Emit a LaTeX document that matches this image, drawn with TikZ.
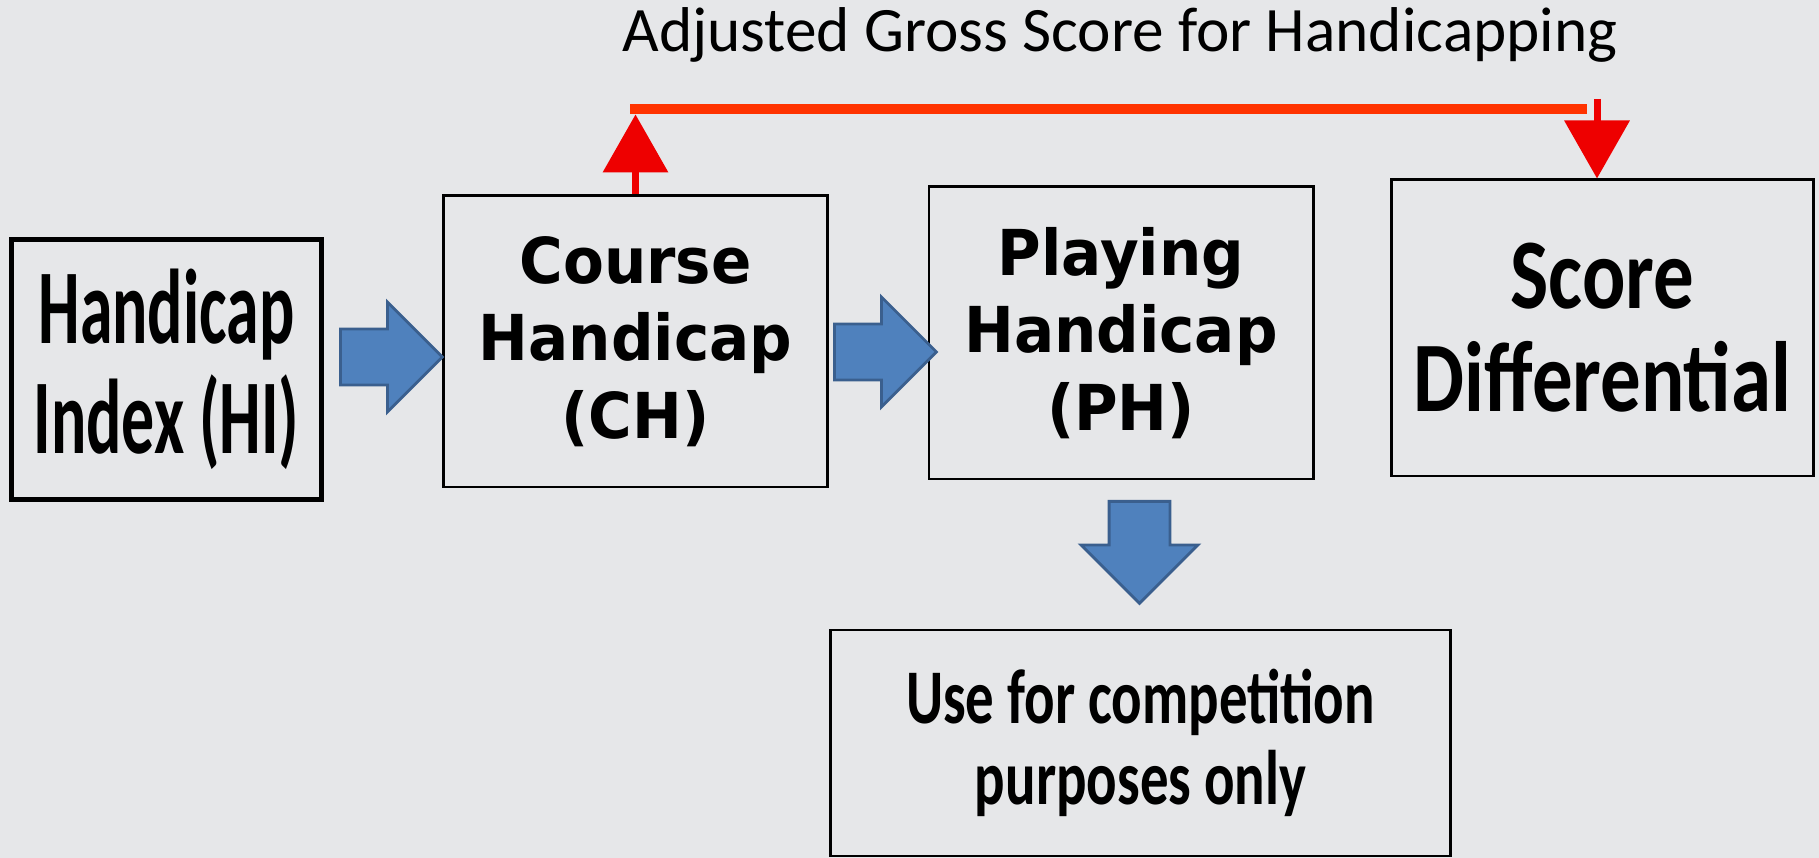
\documentclass[tikz,border=0pt]{standalone}
\usepackage{fontspec}
\setmainfont{Carlito}
\newfontfamily\narrowfont[FakeStretch=0.62]{Carlito}
\newfontfamily\midfont[FakeStretch=0.81]{Carlito}
\newfontfamily\compfont[FakeStretch=0.735]{Carlito}
\newfontfamily\widefont[FakeStretch=0.94]{DejaVu Sans}
\usetikzlibrary{shapes.arrows,arrows.meta}
\definecolor{bggray}{HTML}{E6E7E9}
\definecolor{blockblue}{HTML}{4F81BD}
\definecolor{blockedge}{HTML}{3A5F8E}
\definecolor{agsred}{HTML}{EE0000}
\definecolor{agsline}{HTML}{FF3300}
\newcommand{\hcmid}{\fontsize{18}{22}\selectfont}

\begin{document}
\begin{tikzpicture}[x=0.01cm,y=0.01cm,
        box/.style={draw=black,line width=0.8pt,align=center,inner sep=0pt},
        blockarrow/.style={single arrow,draw=blockedge,fill=blockblue,line width=0.8pt,
                inner xsep=0pt,inner ysep=0.265cm,text width=0pt,text height=0pt,text depth=0pt,
                single arrow head extend=0.27cm,minimum height=1.02cm,anchor=tail},
        redarrow/.style={draw=agsred,line width=2pt,-{Triangle[width=6.4mm,length=5.8mm]}}
    ]
    % Background
    \fill[bggray] (0,0) rectangle (1819,858);
    \useasboundingbox (0,0) rectangle (1819,858);

    \node[box,line width=1.2pt,minimum width=3.1cm,minimum height=2.6cm,
        font=\narrowfont\bfseries\fontsize{30.2}{31.3}\selectfont]
        (hi) at (166.5,488.5) {Handicap\\Index (HI)};
    \node[box,minimum width=3.83cm,minimum height=2.91cm,font=\widefont\bfseries\hcmid]
        (ch) at (635.5,516.5) {Course\\Handicap\\(CH)};
    \node[box,minimum width=3.84cm,minimum height=2.92cm,font=\widefont\bfseries\hcmid]
        (ph) at (1121,525) {Playing\\Handicap\\(PH)};
    \node[box,minimum width=4.21cm,minimum height=2.96cm,
        font=\midfont\bfseries\fontsize{28.4}{29.3}\selectfont]
        (sd) at (1602.5,530) {Score\\Differential};
    \node[box,minimum width=6.19cm,minimum height=2.26cm,
        font=\compfont\bfseries\fontsize{22}{23}\selectfont]
        (comp) at (1140.5,115) {Use for competition\\purposes only};

    \node[blockarrow] (hi2ch) at (339,501) {};
    \node[blockarrow] (ch2ph) at (833,506) {};
    \node[blockarrow,inner ysep=0.29cm,single arrow head extend=0.28cm,rotate=-90]
        (ph2comp) at (1139.5,358) {};

    \node[font=\fontsize{18}{21}\selectfont,anchor=base] (ags) at (1120,806)
        {Adjusted Gross Score for Handicapping};

    \coordinate (agsL) at (630,749);
    \coordinate (agsM) at (1587,749);
    \coordinate (agsR) at (1597,759);
    \draw[agsline,line width=2.8pt] (agsL) -- (agsM);
    \draw[redarrow] (ch.north) -- ([yshift=0.8cm]ch.north);
    \draw[redarrow] (agsR) -- (agsR |- sd.north);
\end{tikzpicture}
\end{document}
